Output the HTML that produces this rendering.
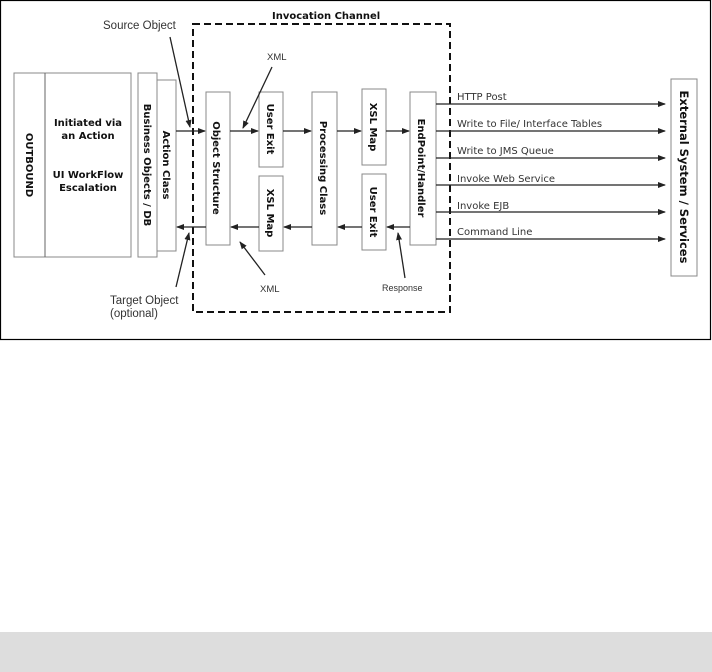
<!DOCTYPE html>
<html><head><meta charset="utf-8"><style>
html,body{margin:0;padding:0;background:#fff;width:712px;height:672px;overflow:hidden}
svg{display:block}
text{font-family:"DejaVu Sans","Liberation Sans",sans-serif}
.b{font-weight:bold;font-size:10px;fill:#111}
.s{font-family:"Liberation Sans",sans-serif;font-size:11.5px;fill:#333}
.t{font-family:"DejaVu Sans",sans-serif;font-size:10px;fill:#333}
.box{fill:#fff;stroke:#888;stroke-width:1}
.ln{stroke:#222;stroke-width:1.3;fill:none}
</style></head><body>
<svg width="712" height="672" viewBox="0 0 712 672">
<defs><marker id="a" markerWidth="8" markerHeight="8" refX="7" refY="4" orient="auto" markerUnits="userSpaceOnUse"><path d="M0,1 L8,4 L0,7 z" fill="#222"/></marker></defs>
<rect x="0.5" y="0.5" width="710" height="339" fill="#fff" stroke="#000" stroke-width="1.2"/>
<rect x="0" y="632" width="712" height="40" fill="#dddddd"/>
<rect x="193" y="24" width="257" height="288" fill="none" stroke="#111" stroke-width="2" stroke-dasharray="7,4"/>
<text x="272" y="19" class="b">Invocation Channel</text>
<rect x="14" y="73" width="117" height="184" class="box"/>
<line x1="45" y1="73" x2="45" y2="257" stroke="#666"/>
<text class="b" transform="translate(26,165) rotate(90)" text-anchor="middle">OUTBOUND</text>
<text class="b" x="88" y="126" text-anchor="middle">Initiated via</text>
<text class="b" x="88" y="139" text-anchor="middle">an Action</text>
<text class="b" x="88" y="178" text-anchor="middle">UI WorkFlow</text>
<text class="b" x="88" y="191" text-anchor="middle">Escalation</text>
<rect x="157" y="80" width="19" height="171" class="box"/>
<rect x="138" y="73" width="19" height="184" class="box"/>
<text class="b" transform="translate(144,165) rotate(90)" text-anchor="middle">Business Objects / DB</text>
<text class="b" transform="translate(163,165) rotate(90)" text-anchor="middle">Action Class</text>
<rect x="206" y="92" width="24" height="153" class="box"/>
<text class="b" transform="translate(213,168) rotate(90)" text-anchor="middle">Object Structure</text>
<rect x="259" y="92" width="24" height="75" class="box"/>
<text class="b" transform="translate(267,129) rotate(90)" text-anchor="middle">User Exit</text>
<rect x="259" y="176" width="24" height="75" class="box"/>
<text class="b" transform="translate(267,213) rotate(90)" text-anchor="middle">XSL Map</text>
<rect x="312" y="92" width="25" height="153" class="box"/>
<text class="b" transform="translate(320,168) rotate(90)" text-anchor="middle">Processing Class</text>
<rect x="362" y="89" width="24" height="76" class="box"/>
<text class="b" transform="translate(370,127) rotate(90)" text-anchor="middle">XSL Map</text>
<rect x="362" y="174" width="24" height="76" class="box"/>
<text class="b" transform="translate(370,212) rotate(90)" text-anchor="middle">User Exit</text>
<rect x="410" y="92" width="26" height="153" class="box"/>
<text class="b" transform="translate(418,168) rotate(90)" text-anchor="middle">EndPoint/Handler</text>
<rect x="671" y="79" width="26" height="197" class="box"/>
<text class="b" style="font-size:11.5px" transform="translate(680,177) rotate(90)" text-anchor="middle">External System / Services</text>
<g class="ln" marker-end="url(#a)">
<line x1="176" y1="131" x2="205" y2="131"/>
<line x1="230" y1="131" x2="258" y2="131"/>
<line x1="283" y1="131" x2="311" y2="131"/>
<line x1="337" y1="131" x2="361" y2="131"/>
<line x1="386" y1="131" x2="409" y2="131"/>
<line x1="410" y1="227" x2="387" y2="227"/>
<line x1="362" y1="227" x2="338" y2="227"/>
<line x1="312" y1="227" x2="284" y2="227"/>
<line x1="259" y1="227" x2="231" y2="227"/>
<line x1="206" y1="227" x2="177" y2="227"/>
<line x1="170" y1="37" x2="190" y2="127"/>
<line x1="272" y1="67" x2="243" y2="128"/>
<line x1="176" y1="287" x2="189" y2="233"/>
<line x1="265" y1="275" x2="240" y2="242"/>
<line x1="405" y1="278" x2="398" y2="233"/>
<line x1="436" y1="104" x2="665" y2="104"/>
<line x1="436" y1="131" x2="665" y2="131"/>
<line x1="436" y1="158" x2="665" y2="158"/>
<line x1="436" y1="185" x2="665" y2="185"/>
<line x1="436" y1="212" x2="665" y2="212"/>
<line x1="436" y1="239" x2="665" y2="239"/>
</g>
<text class="s" x="103" y="29">Source Object</text>
<text class="s" x="267" y="60" style="font-size:9.5px">XML</text>
<text class="s" x="110" y="304">Target Object</text>
<text class="s" x="110" y="317">(optional)</text>
<text class="s" x="260" y="292" style="font-size:9.5px">XML</text>
<text class="s" x="382" y="291" style="font-size:9px">Response</text>
<text class="t" x="457" y="100">HTTP Post</text>
<text class="t" x="457" y="127">Write to File/ Interface Tables</text>
<text class="t" x="457" y="154">Write to JMS Queue</text>
<text class="t" x="457" y="182">Invoke Web Service</text>
<text class="t" x="457" y="209">Invoke EJB</text>
<text class="t" x="457" y="235">Command Line</text>
</svg>
</body></html>
